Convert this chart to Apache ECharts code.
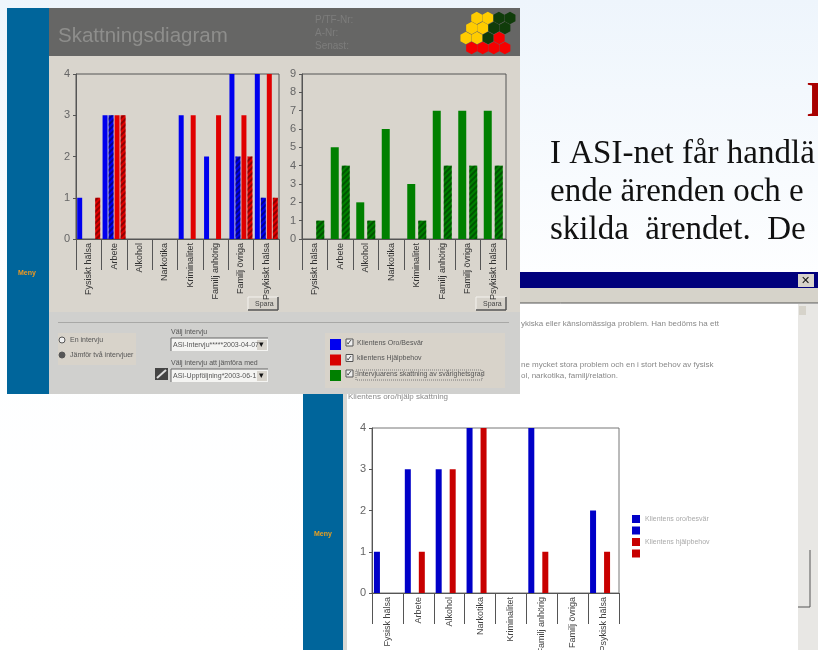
<!DOCTYPE html>
<html><head><meta charset="utf-8">
<style>html,body{margin:0;padding:0;background:#fff;overflow:hidden}#c{width:818px;height:650px;filter:blur(.45px)}</style>
<script src="https://cdn.jsdelivr.net/npm/echarts@6/dist/echarts.min.js"></script>
</head><body><div id="c"></div>
<script>
// ---- data ----
const categoriesTop = ['Fysiskt hälsa','Arbete','Alkohol','Narkotika','Kriminalitet','Familj anhörig','Familj övriga','Psykiskt hälsa'];
const oroFirst      = [1,3,0,0,3,2,4,4];
const oroSecond     = [0,3,0,0,0,0,2,1];
const hjalpFirst    = [0,3,0,0,3,3,3,4];
const hjalpSecond   = [1,3,0,0,0,0,2,1];
const svarFirst     = [0,5,2,6,3,7,7,7];
const svarSecond    = [1,4,1,0,1,4,4,4];
const categoriesLow = ['Fysisk hälsa','Arbete','Alkohol','Narkotika','Kriminalitet','Familj anhörig','Familj övriga','Psykisk hälsa'];
const lowOroFirst   = [1,3,3,4,0,4,0,2];
const lowOroSecond  = [0,0,0,0,0,0,0,0];
const lowHjalpFirst = [0,1,3,4,0,1,0,1];
const lowHjalpSecond= [0,0,0,0,0,0,0,0];
const legendLow     = ['Klientens oro/besvär',' ','Klientens hjälpbehov','  '];
const checkLabels   = ['Klientens Oro/Besvär','klientens Hjälpbehov','Intervjuarens skattning av svårighetsgrad'];
const hexRows = [['y','y','d','d'],['y','y','d','d'],['y','y','d','r'],['r','r','r','r']];
const hexColor = {y:'#ffcc00',d:'#103c0a',r:'#f60000'};

// ---- screenshot furniture ----
const Z=-5;
const R=(x,y,w,h,fill,extra)=>Object.assign({type:'rect',z:Z,silent:true,shape:{x,y,width:w,height:h},style:{fill}},extra||{});
const T=(text,x,y,size,fill,extra)=>({type:'text',z:Z,silent:true,x,y,style:Object.assign({text,fill,font:size+'px "Liberation Sans"',verticalAlign:'middle'},extra||{})});
const L=(x1,y1,x2,y2,stroke,w)=>({type:'line',z:Z,silent:true,shape:{x1,y1,x2,y2},style:{stroke,lineWidth:w||1}});
const hex=(cx,cy,r,fill)=>({type:'polygon',z:Z,silent:true,shape:{points:[0,1,2,3,4,5].map(i=>{const a=Math.PI/3*i+Math.PI/6;return [cx+r*Math.cos(a),cy+r*Math.sin(a)];})},style:{fill}});
const button=(x,y)=>[R(x,y,30,13,'#d6d2ca'),L(x,y,x+30,y,'#f4f2ee'),L(x,y,x,y+13,'#f4f2ee'),L(x,y+13,x+30,y+13,'#555',1.5),L(x+30,y,x+30,y+13,'#555',1.5),T('Spara',x+7,y+7,7,'#444')];
const select=(x,y,text)=>[R(x,y,97,13,'#f4f4f2'),L(x,y,x+97,y,'#666'),L(x,y,x,y+13,'#666'),R(x+86,y+2,10,10,'#d8d4cc'),T('▾',x+88,y+7,9,'#111'),T(text,x+2,y+7,7,'#555')];

const g=[];
// page
g.push({type:'rect',z:-9,silent:true,shape:{x:0,y:0,width:818,height:650},style:{fill:new echarts.graphic.LinearGradient(0,0,0,1,[{offset:0,color:'#eef5fc'},{offset:.42,color:'#fdfeff'},{offset:1,color:'#ffffff'}])}});
// heading + body text
g.push(T('H',807,103,50,'#a80000',{font:'bold 50px "Liberation Serif"'}));
['I ASI-net får handlä','ende ärenden och e','skilda  ärendet.  De'].forEach((s,i)=>g.push(T(s,550,[154,192,230][i],33,'#111',{font:'33px "Liberation Serif"'})));
// lower window
g.push(R(303,272,515,378,'#ffffff'));
g.push(R(303,272,515,16,'#00007c'));
g.push(R(303,288,515,15,'#d6d3ca'));
g.push(L(303,303,818,303,'#555'));
g.push(R(798,304,20,346,'#e8e7e4'));
g.push(R(799,306,7,9,'#d6d3ca'));
g.push(R(798,274,16,13,'#d6d2ca'));
g.push(T('✕',801,281,11,'#111',{font:'bold 11px "DejaVu Sans"'}));
g.push(L(810,550,810,607,'#555'),L(798,607,810,607,'#555'));
g.push(T('ykiska eller känslomässiga problem. Han bedöms ha ett',521,324,8,'#888'));
g.push(T('ne mycket stora problem och en i stort behov av fysisk',521,365,8,'#888'));
g.push(T('ol, narkotika, familj/relation.',521,376,8,'#888'));
g.push(R(303,394,40,256,'#00659b'));
g.push(R(343,394,4,256,'#d8d8d4'));
g.push(T('Meny',314,534,7,'#e8a020',{font:'bold 7px "Liberation Sans"'}));
g.push(T('Klientens oro/hjälp skattning',348,397,8,'#888'));
// upper window
g.push(R(7,8,513,386,'#d0d0ce'));
g.push(R(7,8,42,386,'#00659b'));
g.push(R(49,8,471,48,'#666665'));
g.push(R(49,56,471,256,'#d9d5cd'));
g.push(T('Skattningsdiagram',58,36,20.5,'#8e8e8c'));
g.push(T('P/TF-Nr:',315,20,10,'#7d7d7c'),T('A-Nr:',315,33,10,'#7d7d7c'),T('Senast:',315,46,10,'#7d7d7c'));
g.push(T('Meny',18,273,7,'#f09a20',{font:'bold 7px "Liberation Sans"'}));
hexRows.forEach((row,r)=>row.forEach((c,i)=>{
  const off=[476.7,471.6,465.9,471.6][r];
  g.push(hex(off+i*11.1,18+r*10,6.3,hexColor[c]));
}));
g.push(...button(248,297),...button(476,297));
g.push(L(58,322.5,509,322.5,'#a8a8a6'));
g.push(R(58,333,78,32,'#d8d3ca'));
g.push({type:'circle',z:Z,silent:true,shape:{cx:62,cy:340,r:3},style:{fill:'#eee',stroke:'#555'}});
g.push({type:'circle',z:Z,silent:true,shape:{cx:62,cy:355,r:3},style:{fill:'#555',stroke:'#555'}});
g.push(T('En intervju',70,340,7,'#555'),T('Jämför två intervjuer',70,355,7,'#555'));
g.push(T('Välj intervju',171,332,7,'#555'),T('Välj intervju att jämföra med',171,363,7,'#555'));
g.push(...select(171,338,'ASI-Intervju*****2003-04-07'),...select(171,369,'ASI-Uppföljning*2003-06-1'));
g.push(R(155,368,13,12,'#444'),L(157,378,166,370,'#ddd',2));
g.push(R(325,333,180,55,'#d8d3ca'));
['#0000f0','#d80000','#008000'].forEach((c,i)=>{
  const y=339+i*15.5;
  g.push(R(330,y,11,11,c));
  g.push(R(346,y,7,7,'#eee',{style:{fill:'#eee',stroke:'#555',lineWidth:1}}));
  g.push(T('✓',346,y+4,8,'#222',{font:'bold 8px "DejaVu Sans"'}));
  g.push(T(checkLabels[i],357,y+4,7,'#555'));
});
g.push(R(356,370,126,10,'transparent',{style:{fill:'transparent',stroke:'#777',lineWidth:1,lineDash:[1,1]}}));

// ---- chart ----
const hatch=(color)=>({symbol:'rect',dashArrayX:[1,0],dashArrayY:[2,2],rotation:-Math.PI/4,color,symbolSize:1});
const AX='#555';
const xAx=(gridIndex,data,color)=>({type:'category',gridIndex,data,
  axisLine:{lineStyle:{color:AX}},
  axisTick:{show:true,length:31,alignWithLabel:false,lineStyle:{color:AX}},
  axisLabel:{interval:0,rotate:90,margin:4,fontSize:9,color,fontFamily:'Liberation Sans'},
  splitLine:{show:false}});
const yAx=(gridIndex,max)=>({type:'value',gridIndex,min:0,max,interval:1,
  axisLine:{show:true,lineStyle:{color:AX}},
  axisTick:{show:true,length:3,lineStyle:{color:AX}},
  axisLabel:{margin:6,fontSize:11,color:'#666',fontFamily:'Liberation Sans'},
  splitLine:{show:false}});
const bar=(name,i,data,color,w,gap,decal)=>({type:'bar',name,xAxisIndex:i,yAxisIndex:i,data,barWidth:w,barGap:gap,
  itemStyle:Object.assign({color},decal?{decal:hatch(decal)}:{}),silent:true,animation:false});

const chart=echarts.init(document.getElementById('c'),null,{renderer:'canvas'});
const gridBase={show:true,borderWidth:1,backgroundColor:'transparent',outerBoundsMode:'none',containLabel:false};
chart.setOption({
  animation:false,
  backgroundColor:'transparent',
  graphic:{elements:g},
  grid:[
    Object.assign({},gridBase,{left:76,top:74,width:203,height:165,borderColor:AX}),
    Object.assign({},gridBase,{left:302,top:74,width:204,height:165,borderColor:AX}),
    Object.assign({},gridBase,{left:372,top:428,width:247,height:165,borderColor:'#777'})
  ],
  xAxis:[xAx(0,categoriesTop,'#333'),xAx(1,categoriesTop,'#333'),xAx(2,categoriesLow,'#444')],
  yAxis:[yAx(0,4),yAx(1,9),yAx(2,4)],
  legend:{orient:'vertical',left:632,top:515,padding:0,itemWidth:8,itemHeight:8,itemGap:3.5,data:legendLow.map(name=>({name,icon:'rect'})),selectedMode:false,
    textStyle:{fontSize:7,color:'#aaa',fontFamily:'Liberation Sans'}},
  series:[
    bar('Oro 1',0,oroFirst,'#0000ee',5,'20%'),
    bar('Oro 2',0,oroSecond,'#0000ee',5,'20%','rgba(0,0,70,.55)'),
    bar('Hjälp 1',0,hjalpFirst,'#e00000',5,'20%'),
    bar('Hjälp 2',0,hjalpSecond,'#e00000',5,'20%','rgba(80,0,0,.55)'),
    bar('Svår 1',1,svarFirst,'#008000',8,'37.5%'),
    bar('Svår 2',1,svarSecond,'#008000',8,'37.5%','rgba(0,50,0,.55)'),
    bar(legendLow[0],2,lowOroFirst,'#0000c8',6,'16.7%'),
    bar(legendLow[1],2,lowOroSecond,'#0000c8',6,'16.7%'),
    bar(legendLow[2],2,lowHjalpFirst,'#c80000',6,'16.7%'),
    bar(legendLow[3],2,lowHjalpSecond,'#c80000',6,'16.7%')
  ]
});
</script></body></html>
